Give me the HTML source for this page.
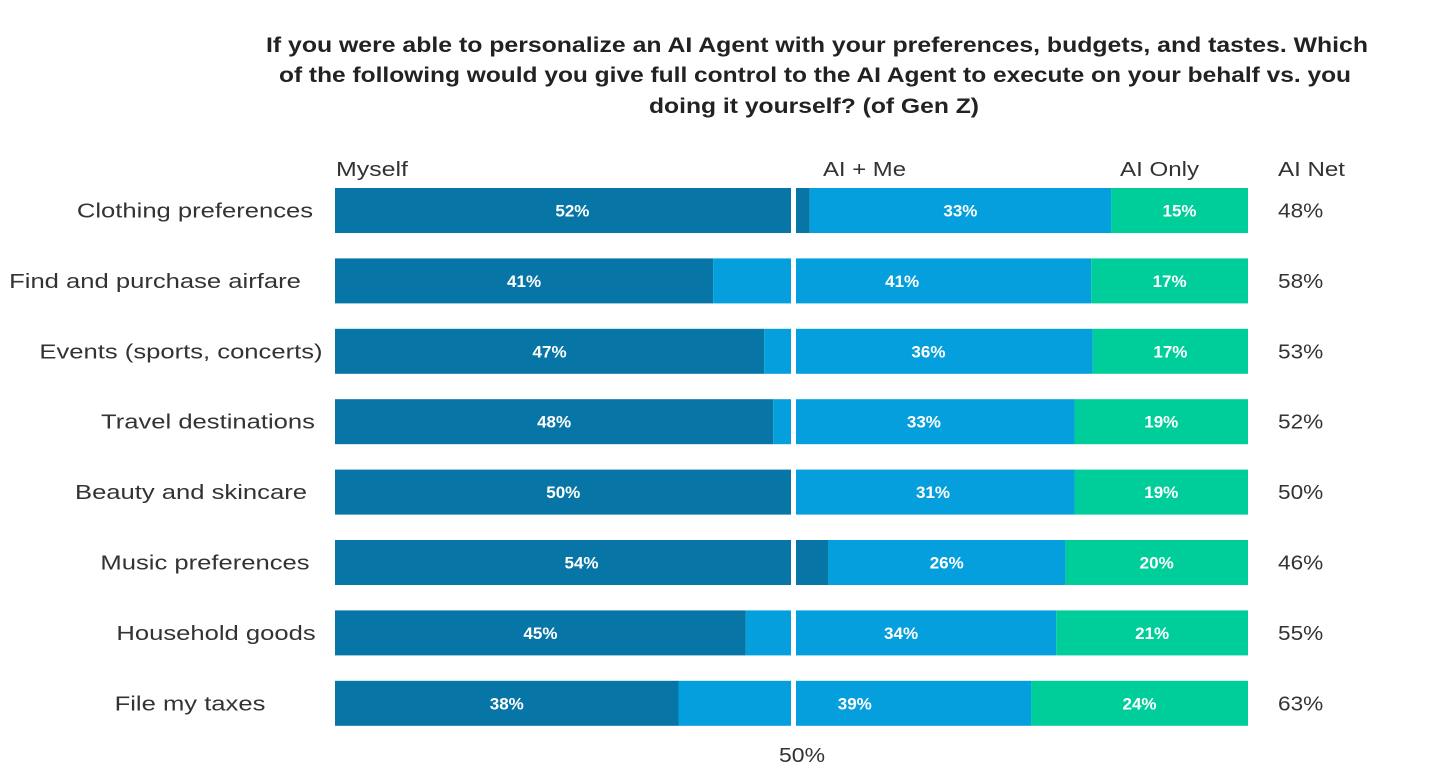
<!DOCTYPE html>
<html><head><meta charset="utf-8"><style>
html,body{margin:0;padding:0;background:#fff;}
svg{display:block;font-family:"Liberation Sans",sans-serif;}
</style></head><body>
<svg id="chart" width="1456" height="777" viewBox="0 0 1456 777">
  <g font-weight="bold" font-size="21" fill="#222" text-anchor="middle">
    <text x="817" y="52" textLength="1102" lengthAdjust="spacingAndGlyphs">If you were able to personalize an AI Agent with your preferences, budgets, and tastes. Which</text>
    <text x="815" y="82" textLength="1072" lengthAdjust="spacingAndGlyphs">of the following would you give full control to the AI Agent to execute on your behalf vs. you</text>
    <text x="814" y="113" textLength="330" lengthAdjust="spacingAndGlyphs">doing it yourself?  (of Gen Z)</text>
  </g>
  <g font-size="20" fill="#333">
    <text x="336" y="176" textLength="72" lengthAdjust="spacingAndGlyphs">Myself</text>
    <text x="823" y="176" textLength="83" lengthAdjust="spacingAndGlyphs">AI + Me</text>
    <text x="1120" y="176" textLength="79" lengthAdjust="spacingAndGlyphs">AI Only</text>
    <text x="1278" y="176" textLength="67" lengthAdjust="spacingAndGlyphs">AI Net</text>
  </g>
  <g id="bars"></g>
  <rect x="791" y="180" width="5" height="555" fill="#fff"></rect>
  <text x="802" y="762" font-size="20" fill="#333" text-anchor="middle" textLength="46" lengthAdjust="spacingAndGlyphs">50%</text>
</svg>
<script>
const categories = ["Clothing preferences","Find and purchase airfare","Events (sports, concerts)","Travel destinations","Beauty and skincare","Music preferences","Household goods","File my taxes"];
const myself = [52,41,47,48,50,54,45,38];
const aiMe = [33,41,36,33,31,26,34,39];
const aiOnly = [15,17,17,19,19,20,21,24];
const aiNet = [48,58,53,52,50,46,55,63];

const NS = "http://www.w3.org/2000/svg";
const x0 = 335, x1 = 1248, top0 = 188, pitch = 70.4, barH = 45;
const colors = ["#0775A6","#049FDC","#00CE9A"];
const labelCenters = [195,155,181,208,191,205,216,190];
const g = document.getElementById("bars");
function mk(tag, attrs){ const e=document.createElementNS(NS,tag); for(const k in attrs) e.setAttribute(k,attrs[k]); return e; }
function xScale(v,total){ return x0 + v/total*(x1-x0); }
function stretch(el,f){ const w=el.getComputedTextLength(); el.setAttribute("textLength",w*f); el.setAttribute("lengthAdjust","spacingAndGlyphs"); }
categories.forEach((cat,i)=>{
  const y = top0 + i*pitch;
  const cy = y + barH/2;
  const vals = [myself[i], aiMe[i], aiOnly[i]];
  const total = vals[0]+vals[1]+vals[2];
  const lab = mk("text",{x:labelCenters[i],y:cy+7,"font-size":20,fill:"#333","text-anchor":"middle"});
  
  
  lab.textContent = cat; g.appendChild(lab);
  stretch(lab,1.28);
  let cum = 0;
  const segNames = ["segment-myself","segment-ai-me","segment-ai-only"];
  vals.forEach((v,j)=>{
    const xa = xScale(cum,total), xb = xScale(cum+v,total);
    const r = mk("rect",{x:xa,y:y,width:xb-xa,height:barH,fill:colors[j]});
    
    
    g.appendChild(r);
    const t = mk("text",{x:(xa+xb)/2,y:cy+6,"font-size":17,"font-weight":"bold",fill:"#fff","text-anchor":"middle"});
    
    
    t.textContent = v+"%"; g.appendChild(t);
    cum += v;
  });
  const n = mk("text",{x:1278,y:cy+7,"font-size":20,fill:"#333"});
  
  
  n.textContent = aiNet[i]+"%"; g.appendChild(n);
  stretch(n,1.13);
});
</script>
</body></html>
